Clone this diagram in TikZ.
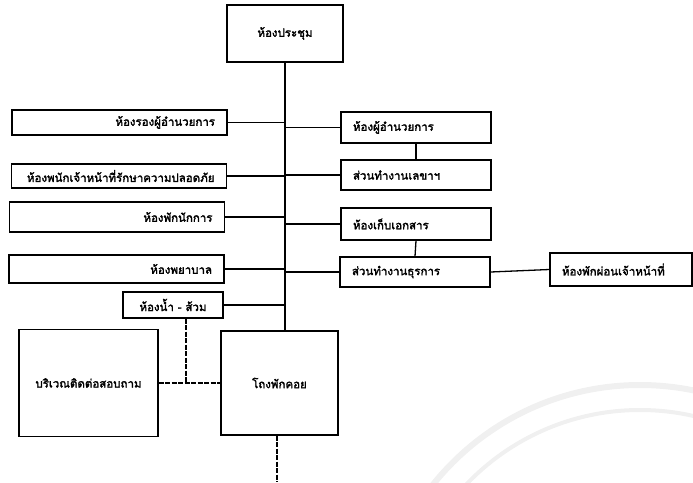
\documentclass[tikz,border=0pt]{standalone}
\usepackage{fontspec}
\newfontfamily\thaifont[Script=Thai,FakeBold=2.2]{Loma}
\usetikzlibrary{positioning}

\begin{document}
\begin{tikzpicture}[x=1pt,y=-1pt,
    room/.style={draw,line width=1.4pt,inner xsep=12pt,inner ysep=0pt,
      font=\thaifont\fontsize{11.5}{13}\selectfont},
    leftroom/.style={room,text width=191pt,align=right},
    rightroom/.style={room,text width=126pt,align=left},
    wire/.style={line width=1.3pt},
    duct/.style={line width=2.6pt,dash pattern=on 5pt off 1.5pt}
  ]
  \useasboundingbox (0,0) rectangle (693,482);
  % faint marks of the scan
  \begin{scope}
    \clip (0,0) rectangle (693,482);
    \draw[black!6,line width=6pt] (640,650) circle[radius=265pt];
    \draw[black!6,line width=4pt] (640,650) circle[radius=240pt];
  \end{scope}
  \node[room,minimum width=116pt,minimum height=57pt] (meet) at (285,33.5) {ห้องประชุม};
  \node[leftroom,minimum height=25pt] (l1) at (119.5,122.5) {ห้องรองผู้อำนวยการ};
  \node[leftroom,minimum height=24pt] (l2) at (119,176) {ห้องพนักเจ้าหน้าที่รักษาความปลอดภัย};
  \node[leftroom,minimum height=30pt] (l3) at (117,217) {ห้องพักนักการ};
  \node[leftroom,minimum height=28pt] (l4) at (116.5,269) {ห้องพยาบาล};
  \node[rightroom,minimum height=31pt] (r1) at (416,127.5) {ห้องผู้อำนวยการ};
  \node[rightroom,minimum height=30pt] (r2) at (416,175) {ส่วนทำงานเลขาฯ};
  \node[rightroom,minimum height=32pt] (r3) at (416,224) {ห้องเก็บเอกสาร};
  \node[rightroom,minimum height=30pt] (r4) at (415,272) {ส่วนทำงานธุรการ};
  \node[room,text width=118pt,align=left,minimum height=33pt] (rest) at (621,269.5) {ห้องพักผ่อนเจ้าหน้าที่};
  \node[room,inner xsep=8pt,minimum width=100pt,minimum height=26pt] (wc) at (173,305) {ห้องน้ำ - ส้วม};
  \node[room,minimum width=139pt,minimum height=107pt] (info) at (88.5,383) {บริเวณติดต่อสอบถาม};
  \node[room,minimum width=117pt,minimum height=104pt] (hall) at (279.5,383) {โถงพักคอย};
  \coordinate (exit) at (277,482);

  \draw[wire] (meet.south) -- (meet.south |- hall.north);
  \draw[wire] (l1.east) -- (l1.east -| meet.south);
  \draw[wire] (l2.east) -- (l2.east -| meet.south);
  \draw[wire] (l3.east) -- (l3.east -| meet.south);
  \draw[wire] (l4.east) -- (l4.east -| meet.south);
  \draw[wire] (wc.east) -- (wc.east -| meet.south);
  \draw[wire] (r1.west -| meet.south) -- (r1.west);
  \draw[wire] (r2.west -| meet.south) -- (r2.west);
  \draw[wire] (r3.west -| meet.south) -- (r3.west);
  \draw[wire] (r4.west -| meet.south) -- (r4.west);
  \draw[wire] (r1.south) -- (r2.north);
  \draw[wire] (r3.south) -- (r4.north);
  \draw[wire] (r4.east) -- (rest.west);
  \draw[duct] (info.east) -- (hall.west);
  \draw[duct] ([xshift=13pt]wc.south) -- ([xshift=13pt]wc.south |- hall.west);
  \draw[duct] (exit |- hall.south) -- (exit);
\end{tikzpicture}
\end{document}
